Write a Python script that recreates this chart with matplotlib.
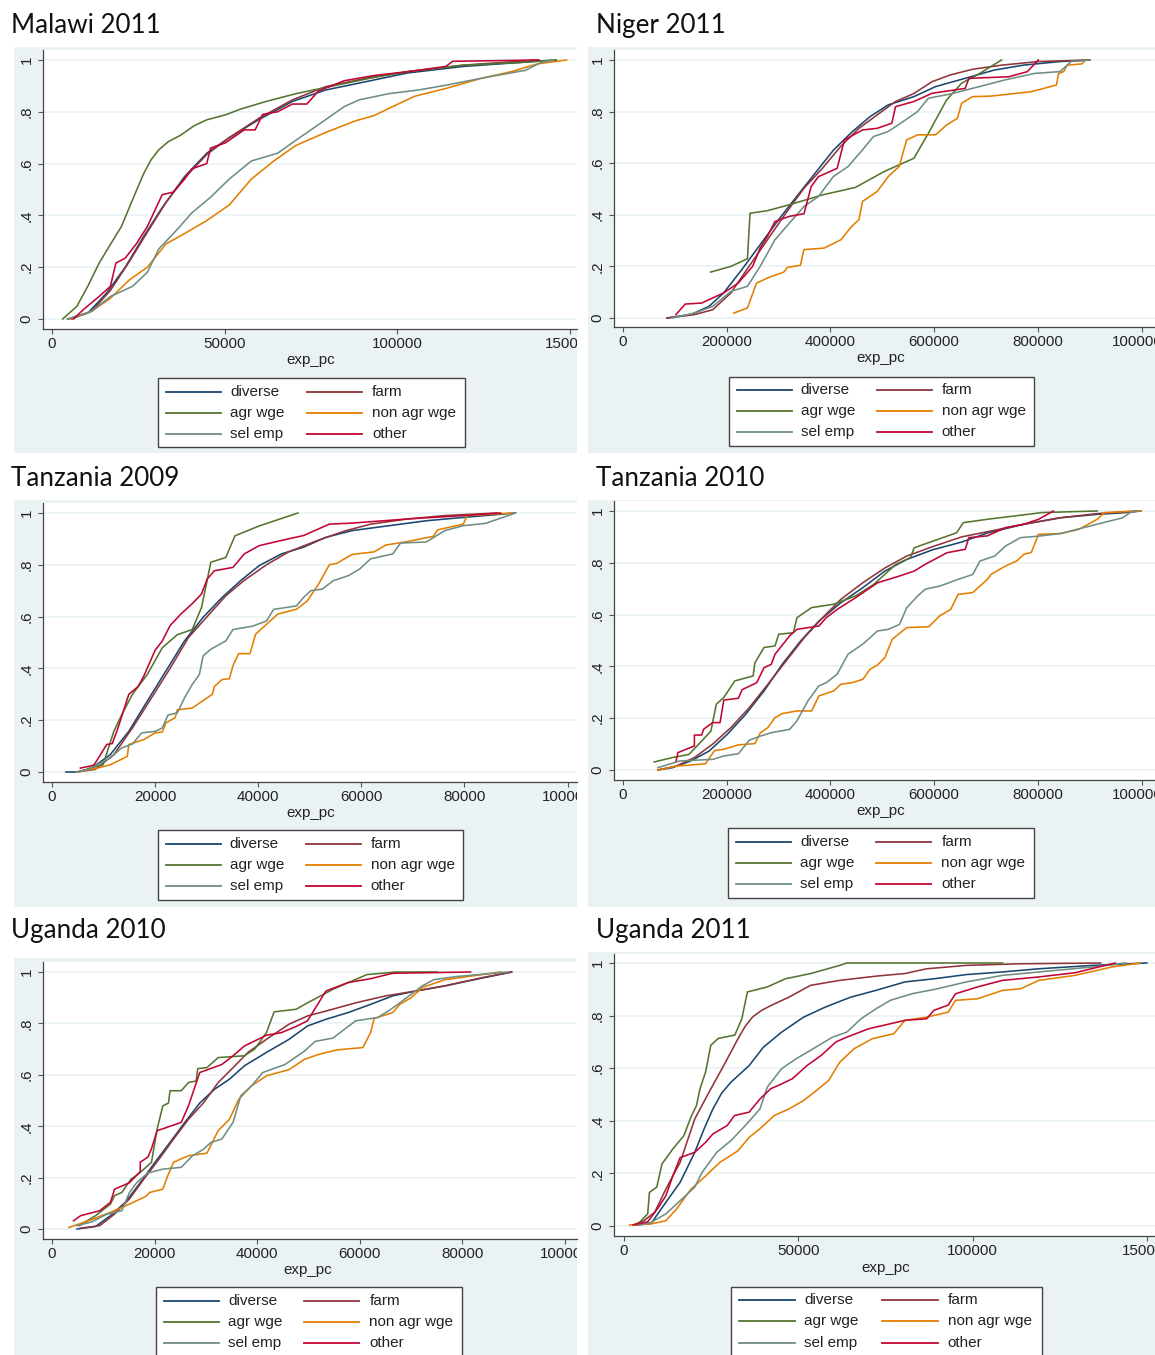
"""Cumulative distributions of exp_pc by livelihood group, six country-years."""
import matplotlib
matplotlib.use("Agg")
import matplotlib.pyplot as plt
from matplotlib.patches import Rectangle
from matplotlib.lines import Line2D
from matplotlib.transforms import Bbox, TransformedBbox

GROUPS = ["diverse", "farm", "agr wge", "non agr wge", "sel emp", "other"]
COLORS = {
    "diverse":     "#1A476F",
    "farm":        "#90353B",
    "agr wge":     "#55752F",
    "non agr wge": "#E37E00",
    "sel emp":     "#6E8E84",
    "other":       "#C10534",
}
Y_TICKS = [0, 0.2, 0.4, 0.6, 0.8, 1]
Y_TICK_LABELS = ["0", ".2", ".4", ".6", ".8", "1"]

# ---- data: (exp_pc, cumulative share) ----
MALAWI_2011 = {
    "diverse": ([4500, 10400, 15800, 21200, 26600, 31900, 38400, 44800, 51300, 59900, 69600, 79200, 92200, 103000, 119000, 135000, 146000],
                [0, 0.023, 0.10, 0.20, 0.32, 0.43, 0.55, 0.64, 0.70, 0.77, 0.84, 0.884, 0.92, 0.95, 0.975, 0.99, 1.0]),
    "farm": ([5600, 11500, 16900, 22300, 27600, 33000, 38400, 44800, 51300, 59900, 69600, 79200, 92200, 103000, 119000, 140500],
             [0, 0.03, 0.11, 0.22, 0.335, 0.45, 0.545, 0.635, 0.70, 0.775, 0.846, 0.897, 0.933, 0.955, 0.98, 1.0]),
    "agr wge": ([3100, 7200, 10500, 13650, 17000, 20100, 23300, 26600, 28700, 30900, 33700, 37300, 41000, 44800, 50200, 54500, 62000, 70600, 81400, 92200, 103000, 119000, 135000, 146000],
                [0, 0.049, 0.13, 0.216, 0.29, 0.357, 0.46, 0.563, 0.615, 0.653, 0.685, 0.71, 0.745, 0.769, 0.788, 0.81, 0.84, 0.87, 0.90, 0.93, 0.955, 0.98, 0.99, 1.0]),
    "non agr wge": ([5000, 11500, 16900, 22300, 27600, 33000, 38400, 44800, 51300, 57700, 64200, 70600, 79200, 87800, 93200, 98600, 105000, 114000, 124500, 133000, 140500, 149000],
                    [0, 0.03, 0.08, 0.15, 0.20, 0.29, 0.33, 0.38, 0.44, 0.54, 0.61, 0.67, 0.72, 0.765, 0.785, 0.82, 0.86, 0.89, 0.93, 0.955, 0.985, 1.0]),
    "sel emp": ([4500, 11500, 16900, 23300, 27600, 30900, 36200, 40500, 45900, 51300, 57700, 65300, 70600, 77100, 84600, 88900, 97500, 106000, 114600, 124500, 137000, 141500, 145000],
                [0, 0.03, 0.087, 0.126, 0.18, 0.27, 0.345, 0.41, 0.47, 0.54, 0.61, 0.64, 0.69, 0.75, 0.82, 0.846, 0.87, 0.884, 0.904, 0.93, 0.96, 0.99, 1.0]),
    "other": ([6200, 9400, 13650, 16900, 18500, 21200, 24400, 27600, 31900, 35100, 38400, 40500, 44800, 45900, 50200, 55600, 58800, 61000, 65300, 69600, 73800, 77100, 84600, 93200, 103000, 114000, 116000, 141000],
              [0, 0.04, 0.087, 0.126, 0.216, 0.235, 0.29, 0.357, 0.48, 0.49, 0.54, 0.58, 0.60, 0.66, 0.68, 0.73, 0.73, 0.79, 0.80, 0.83, 0.83, 0.88, 0.92, 0.94, 0.955, 0.975, 0.995, 1.0]),
}

NIGER_2011 = {
    "diverse": ([84700, 130500, 165800, 194000, 229000, 264500, 300000, 335000, 370000, 405600, 441000, 476000, 511500, 561000, 603000, 660000, 716000, 772000, 843000, 900000],
                [0, 0.013, 0.045, 0.097, 0.187, 0.284, 0.381, 0.471, 0.56, 0.65, 0.72, 0.78, 0.826, 0.858, 0.897, 0.929, 0.961, 0.98, 0.994, 1.0]),
    "farm": ([84700, 137500, 173000, 208000, 243000, 278500, 314000, 349000, 384500, 419800, 455000, 490000, 525600, 561000, 596000, 631000, 674000, 730000, 801000, 900000],
             [0, 0.013, 0.032, 0.097, 0.2, 0.303, 0.406, 0.503, 0.58, 0.665, 0.735, 0.787, 0.839, 0.87, 0.916, 0.942, 0.964, 0.98, 0.994, 1.0]),
    "agr wge": ([169000, 208000, 236000, 240000, 245000, 278500, 321000, 384500, 448000, 504000, 561000, 589000, 624000, 653000, 688000, 730000],
                [0.178, 0.2, 0.226, 0.23, 0.406, 0.416, 0.439, 0.477, 0.506, 0.568, 0.619, 0.716, 0.845, 0.91, 0.948, 1.0]),
    "non agr wge": ([213700, 240000, 257500, 278500, 310000, 317000, 342000, 349000, 388000, 420000, 441000, 455000, 462000, 490000, 511500, 532500, 547000, 568000, 603000, 624000, 645000, 653000, 674000, 709000, 787000, 836000, 840000, 850000, 857000, 885000, 892000],
                    [0.019, 0.039, 0.135, 0.155, 0.178, 0.196, 0.204, 0.265, 0.271, 0.303, 0.355, 0.381, 0.452, 0.49, 0.548, 0.587, 0.69, 0.71, 0.71, 0.748, 0.774, 0.832, 0.858, 0.86, 0.877, 0.903, 0.948, 0.955, 0.98, 0.985, 1.0]),
    "sel emp": ([95000, 137500, 173000, 208000, 240000, 264500, 293000, 321000, 349000, 377000, 405600, 434000, 462000, 483000, 511500, 540000, 568000, 589000, 631000, 674000, 737000, 794000, 843000, 864000, 900000],
                [0, 0.019, 0.045, 0.103, 0.123, 0.2, 0.303, 0.368, 0.432, 0.471, 0.548, 0.587, 0.652, 0.703, 0.723, 0.761, 0.80, 0.852, 0.868, 0.89, 0.923, 0.948, 0.955, 0.994, 1.0]),
    "other": ([102000, 120000, 151700, 194000, 222000, 250000, 264500, 278500, 293000, 321000, 349000, 363000, 377000, 413000, 427000, 462000, 490000, 518500, 525600, 561000, 596000, 660000, 667000, 744000, 780000, 801000],
              [0.013, 0.054, 0.058, 0.097, 0.135, 0.2, 0.271, 0.316, 0.374, 0.394, 0.404, 0.51, 0.548, 0.58, 0.69, 0.729, 0.735, 0.755, 0.819, 0.839, 0.871, 0.89, 0.929, 0.935, 0.955, 1.0]),
}

TANZANIA_2009 = {
    "diverse": ([2700, 4800, 7700, 11300, 14900, 18500, 22100, 25700, 29300, 33000, 36600, 40200, 44500, 48800, 53100, 58200, 65400, 72600, 79800, 89900],
                [0, 0, 0.015, 0.067, 0.157, 0.274, 0.39, 0.506, 0.597, 0.674, 0.739, 0.797, 0.842, 0.868, 0.906, 0.932, 0.951, 0.97, 0.983, 1.0]),
    "farm": ([4800, 8400, 12000, 15600, 19300, 22900, 26500, 30100, 33700, 37300, 41600, 45900, 51000, 56700, 61800, 69000, 76200, 86300],
             [0, 0.01, 0.067, 0.17, 0.286, 0.40, 0.52, 0.60, 0.68, 0.74, 0.80, 0.85, 0.89, 0.93, 0.957, 0.977, 0.99, 1.0]),
    "agr wge": ([7000, 9900, 12000, 13500, 15600, 18500, 21400, 24300, 27200, 29000, 30100, 30800, 33700, 35500, 40200, 47700],
                [0.013, 0.028, 0.157, 0.22, 0.30, 0.377, 0.48, 0.53, 0.55, 0.635, 0.74, 0.81, 0.828, 0.912, 0.95, 1.0]),
    "non agr wge": ([4800, 8400, 11300, 14600, 14900, 17800, 20000, 21400, 22100, 23900, 24300, 27200, 31100, 31500, 33000, 34400, 35100, 36200, 38400, 39500, 41600, 43800, 47400, 49500, 51700, 53800, 55300, 58200, 62500, 64700, 69000, 74000, 74800, 79800, 80500, 89300],
                    [0, 0.013, 0.028, 0.06, 0.106, 0.125, 0.151, 0.155, 0.19, 0.21, 0.24, 0.247, 0.30, 0.33, 0.357, 0.36, 0.41, 0.457, 0.457, 0.532, 0.57, 0.61, 0.628, 0.66, 0.725, 0.80, 0.806, 0.84, 0.85, 0.876, 0.89, 0.91, 0.935, 0.957, 0.99, 1.0]),
    "sel emp": ([4800, 7000, 11300, 13500, 15600, 17400, 20000, 21400, 22500, 24300, 25700, 27200, 28600, 29300, 30800, 33700, 35100, 38900, 41600, 43000, 47400, 48800, 50200, 52400, 54600, 57500, 59700, 61800, 66100, 67600, 72600, 76200, 79800, 84100, 88500, 89900],
                [0, 0.01, 0.054, 0.093, 0.108, 0.151, 0.157, 0.17, 0.22, 0.228, 0.286, 0.338, 0.377, 0.448, 0.474, 0.506, 0.55, 0.563, 0.583, 0.628, 0.641, 0.674, 0.70, 0.706, 0.739, 0.758, 0.784, 0.823, 0.842, 0.884, 0.888, 0.932, 0.951, 0.96, 0.99, 1.0]),
    "other": ([5500, 8100, 9200, 10600, 11700, 12800, 14900, 16700, 17800, 20000, 21400, 22900, 25000, 27200, 29000, 30100, 31500, 35100, 37300, 40200, 44500, 48800, 53800, 58200, 69000, 79800, 87000],
              [0.015, 0.026, 0.06, 0.106, 0.11, 0.17, 0.30, 0.33, 0.37, 0.47, 0.506, 0.565, 0.61, 0.65, 0.687, 0.745, 0.777, 0.79, 0.842, 0.874, 0.894, 0.913, 0.957, 0.961, 0.977, 0.99, 1.0]),
}

TANZANIA_2010 = {
    "diverse": ([67100, 95300, 130600, 166000, 201300, 236600, 272000, 307000, 342500, 377800, 420200, 462500, 505000, 547300, 596700, 653000, 702700, 773300, 844000, 914500, 971000, 999000],
                [0, 0.009, 0.035, 0.073, 0.138, 0.215, 0.305, 0.408, 0.498, 0.575, 0.646, 0.704, 0.768, 0.813, 0.85, 0.88, 0.915, 0.949, 0.974, 0.987, 0.994, 1.0]),
    "farm": ([67100, 102400, 137700, 173000, 208300, 243600, 279000, 314200, 349600, 384900, 420200, 462500, 505000, 547300, 596700, 653000, 702700, 773300, 844000, 914500, 992000],
             [0, 0.015, 0.048, 0.10, 0.164, 0.241, 0.33, 0.42, 0.511, 0.588, 0.659, 0.723, 0.78, 0.826, 0.862, 0.90, 0.92, 0.949, 0.974, 0.99, 1.0]),
    "agr wge": ([60000, 95300, 127100, 151800, 169500, 180000, 194400, 215600, 250900, 254400, 272000, 293200, 300200, 328500, 335500, 363700, 406100, 448500, 483800, 526200, 554400, 561500, 643500, 656300, 702700, 808600, 914500],
                [0.031, 0.048, 0.06, 0.112, 0.15, 0.254, 0.28, 0.344, 0.363, 0.414, 0.473, 0.479, 0.524, 0.53, 0.588, 0.627, 0.64, 0.672, 0.717, 0.794, 0.82, 0.858, 0.916, 0.955, 0.968, 0.994, 1.0]),
    "non agr wge": ([67100, 102400, 159000, 176500, 194400, 222600, 254400, 265000, 279000, 293200, 307300, 335500, 363700, 377800, 406100, 420200, 441500, 462500, 476500, 490800, 505000, 519200, 547300, 589600, 610800, 632000, 646300, 674500, 702700, 709800, 738000, 759300, 773300, 787400, 801500, 844000, 879000, 914500, 928700, 999000],
                    [0, 0.015, 0.024, 0.075, 0.08, 0.097, 0.102, 0.144, 0.163, 0.202, 0.218, 0.228, 0.228, 0.286, 0.305, 0.331, 0.337, 0.35, 0.389, 0.405, 0.434, 0.505, 0.55, 0.553, 0.595, 0.62, 0.678, 0.685, 0.736, 0.755, 0.788, 0.807, 0.833, 0.84, 0.91, 0.913, 0.929, 0.968, 0.994, 1.0]),
    "sel emp": ([67100, 109500, 173000, 194400, 222600, 243600, 265000, 286000, 321400, 335500, 356700, 377800, 392000, 413000, 434000, 462500, 476500, 490800, 511400, 533200, 547300, 568500, 582700, 610800, 646300, 674500, 688600, 716800, 738000, 766300, 801500, 844000, 914500, 964000, 978000, 992000],
                [0.009, 0.035, 0.041, 0.054, 0.063, 0.115, 0.131, 0.144, 0.157, 0.19, 0.267, 0.325, 0.337, 0.37, 0.447, 0.486, 0.511, 0.537, 0.543, 0.562, 0.627, 0.672, 0.698, 0.71, 0.736, 0.755, 0.807, 0.826, 0.865, 0.897, 0.903, 0.913, 0.949, 0.974, 0.994, 1.0]),
    "other": ([102400, 105900, 137700, 137700, 151800, 155300, 173000, 187200, 194400, 222600, 229600, 257800, 272000, 286000, 293200, 321400, 335500, 377800, 392000, 413000, 448500, 491000, 533200, 561500, 582700, 625000, 660000, 667000, 702700, 738000, 773300, 801500, 830000],
              [0.035, 0.067, 0.093, 0.135, 0.135, 0.157, 0.183, 0.183, 0.27, 0.277, 0.31, 0.337, 0.395, 0.408, 0.447, 0.518, 0.543, 0.556, 0.588, 0.62, 0.665, 0.723, 0.749, 0.768, 0.794, 0.839, 0.852, 0.897, 0.904, 0.936, 0.949, 0.968, 1.0]),
}

UGANDA_2010 = {
    "diverse": ([4900, 8500, 11400, 14300, 17200, 20100, 23000, 25900, 28800, 31700, 34600, 37500, 41800, 46200, 49800, 53400, 57700, 62100, 66400, 70900, 76600, 82300, 89600],
                [0, 0.01, 0.052, 0.104, 0.18, 0.26, 0.337, 0.415, 0.49, 0.544, 0.583, 0.635, 0.687, 0.738, 0.79, 0.816, 0.842, 0.874, 0.907, 0.926, 0.946, 0.97, 1.0]),
    "farm": ([5600, 9300, 12200, 15100, 17900, 20800, 23700, 26600, 29500, 32400, 35300, 38200, 41800, 46200, 49800, 53400, 59200, 65000, 70900, 76600, 83800, 89600],
             [0.003, 0.013, 0.058, 0.117, 0.194, 0.27, 0.35, 0.427, 0.49, 0.57, 0.628, 0.687, 0.738, 0.797, 0.829, 0.848, 0.88, 0.907, 0.926, 0.946, 0.978, 1.0]),
    "agr wge": ([5300, 8500, 11400, 12200, 13600, 15400, 17200, 19400, 20500, 21600, 22700, 23000, 25200, 26600, 28100, 28400, 30200, 32400, 37500, 39500, 41800, 43300, 47600, 49800, 54800, 61400, 67100, 75100],
                [0.013, 0.052, 0.097, 0.13, 0.142, 0.194, 0.22, 0.26, 0.39, 0.479, 0.49, 0.538, 0.538, 0.57, 0.576, 0.624, 0.628, 0.667, 0.674, 0.70, 0.764, 0.845, 0.855, 0.88, 0.933, 0.99, 1.0, 1.0]),
    "non agr wge": ([3300, 7100, 11400, 15100, 16900, 18300, 19000, 21600, 22700, 23700, 26600, 30200, 32400, 34600, 36400, 38900, 41800, 46200, 49200, 52100, 55600, 60600, 62100, 62800, 66400, 67800, 70000, 72200, 76600, 87500],
                    [0.006, 0.032, 0.065, 0.097, 0.114, 0.127, 0.142, 0.155, 0.214, 0.26, 0.285, 0.295, 0.383, 0.427, 0.505, 0.557, 0.596, 0.62, 0.66, 0.68, 0.697, 0.706, 0.764, 0.819, 0.842, 0.874, 0.90, 0.94, 0.97, 1.0]),
    "sel emp": ([4900, 7800, 10700, 13600, 15100, 16500, 18700, 21600, 25200, 27400, 29500, 31000, 33100, 35300, 36800, 38900, 41100, 45400, 49200, 51300, 54800, 57000, 59200, 63500, 65700, 67800, 72200, 74400, 78700, 88800],
                [0.013, 0.028, 0.058, 0.071, 0.142, 0.18, 0.218, 0.233, 0.24, 0.285, 0.31, 0.337, 0.35, 0.415, 0.518, 0.557, 0.609, 0.64, 0.692, 0.73, 0.743, 0.777, 0.81, 0.823, 0.85, 0.88, 0.946, 0.97, 0.982, 1.0]),
    "other": ([4200, 5600, 9300, 11400, 12200, 15100, 17200, 17200, 18700, 19400, 20500, 21600, 25200, 26600, 28800, 33100, 35300, 37500, 41800, 44700, 47600, 49800, 53400, 57700, 62100, 66400, 81600],
              [0.032, 0.052, 0.071, 0.104, 0.155, 0.18, 0.223, 0.26, 0.28, 0.313, 0.383, 0.39, 0.415, 0.479, 0.609, 0.64, 0.674, 0.712, 0.754, 0.764, 0.788, 0.81, 0.926, 0.959, 0.974, 0.995, 1.0]),
}

UGANDA_2011 = {
    "diverse": ([3600, 7800, 12000, 16100, 20300, 23000, 25500, 28000, 30700, 35900, 40000, 45200, 51500, 57700, 65000, 72300, 80600, 88900, 98200, 108600, 119000, 134600, 150000],
                [0.004, 0.01, 0.09, 0.166, 0.28, 0.37, 0.445, 0.505, 0.547, 0.61, 0.68, 0.737, 0.794, 0.832, 0.87, 0.896, 0.928, 0.94, 0.956, 0.966, 0.978, 0.991, 1.0]),
    "farm": ([2600, 5700, 8800, 12000, 16100, 20300, 24400, 28600, 32700, 34800, 36900, 39500, 42100, 47300, 53500, 61900, 72300, 80600, 86800, 98200, 113800, 136700],
             [0.004, 0.02, 0.052, 0.14, 0.242, 0.407, 0.509, 0.61, 0.712, 0.76, 0.795, 0.82, 0.838, 0.87, 0.915, 0.934, 0.95, 0.96, 0.978, 0.991, 0.997, 1.0]),
    "agr wge": ([3600, 5200, 6800, 7300, 9400, 10900, 14000, 17200, 19200, 20800, 21800, 23400, 24900, 27000, 31800, 33800, 35400, 41100, 46300, 53600, 61900, 63900, 108600],
                [0.004, 0.024, 0.046, 0.128, 0.148, 0.236, 0.293, 0.344, 0.414, 0.458, 0.522, 0.585, 0.687, 0.713, 0.726, 0.788, 0.89, 0.909, 0.94, 0.96, 0.991, 1.0, 1.0]),
    "non agr wge": ([1600, 7800, 12000, 15100, 19200, 23400, 27500, 32700, 35900, 39000, 43100, 47300, 51500, 54600, 58700, 61900, 66000, 71200, 77400, 80600, 86800, 93000, 95100, 101400, 108600, 113800, 119000, 129400, 140000, 148100],
                    [0.004, 0.008, 0.02, 0.065, 0.14, 0.19, 0.242, 0.286, 0.337, 0.37, 0.42, 0.445, 0.477, 0.509, 0.553, 0.623, 0.674, 0.712, 0.731, 0.782, 0.794, 0.813, 0.858, 0.864, 0.896, 0.902, 0.934, 0.953, 0.985, 1.0]),
    "sel emp": ([4600, 7800, 12000, 16100, 20300, 22400, 26600, 30700, 34800, 39000, 41100, 45200, 49400, 53500, 59800, 63900, 68000, 72300, 76400, 82600, 89900, 98200, 108600, 119000, 134600, 144000],
                [0.004, 0.014, 0.046, 0.096, 0.148, 0.204, 0.28, 0.325, 0.382, 0.445, 0.528, 0.598, 0.636, 0.668, 0.718, 0.737, 0.788, 0.826, 0.858, 0.883, 0.902, 0.928, 0.953, 0.966, 0.985, 1.0]),
    "other": ([2600, 6800, 9900, 12000, 14000, 16100, 20300, 23400, 25500, 29600, 31700, 35900, 39000, 42100, 45200, 48300, 52500, 56700, 60800, 63900, 70200, 76400, 80600, 86800, 88900, 93000, 95100, 101400, 108600, 119000, 129400, 140900],
              [0.004, 0.016, 0.071, 0.115, 0.19, 0.26, 0.28, 0.318, 0.35, 0.382, 0.42, 0.433, 0.483, 0.522, 0.54, 0.56, 0.61, 0.65, 0.70, 0.718, 0.75, 0.769, 0.782, 0.788, 0.82, 0.84, 0.883, 0.909, 0.934, 0.947, 0.963, 1.0]),
}

# ---- layout, all in pixels of the 1155x1355 canvas ----
W, H = 1155, 1355
BG = "#EAF2F3"
TICK_FONT = "Liberation Sans"
TICK_SIZE = 10.9

PANELS = [
    # title, data, title xy, gray box, axes box, x0 px, px per unit, y0 px, y1 px, xticks, xlabel xy, legend box, legend rows
    ("Malawi 2011", MALAWI_2011, (11, 33), (14, 47, 577, 453), (43, 50, 577, 329),
     52, 172.7 / 50000, 319, 60, [0, 50000, 100000, 150000], (311, 360),
     (158, 378, 465, 447), (392, 413, 434)),
    ("Niger 2011", NIGER_2011, (596, 33), (588, 47, 1155, 453), (614, 50, 1155, 327),
     623, 103.7 / 200000, 318, 60, [0, 200000, 400000, 600000, 800000, 1000000], (881, 358),
     (729, 377, 1034, 446), (390, 411, 432)),
    ("Tanzania 2009", TANZANIA_2009, (11, 486), (14, 500, 577, 907), (43, 503, 577, 782),
     52, 103.1 / 20000, 772, 513, [0, 20000, 40000, 60000, 80000, 100000], (311, 813),
     (158, 830, 463, 900), (844, 865, 886)),
    ("Tanzania 2010", TANZANIA_2010, (596, 486), (588, 500, 1155, 907), (614, 501, 1155, 780),
     623, 103.7 / 200000, 770, 511, [0, 200000, 400000, 600000, 800000, 1000000], (881, 811),
     (728, 828, 1034, 898), (842, 863, 884)),
    ("Uganda 2010", UGANDA_2010, (11, 938), (14, 958, 577, 1355), (43, 962, 577, 1239),
     52, 102.6 / 20000, 1229, 972, [0, 20000, 40000, 60000, 80000, 100000], (308, 1270),
     (156, 1287, 462, 1370), (1301, 1322, 1343)),
    ("Uganda 2011", UGANDA_2011, (596, 938), (588, 952, 1155, 1355), (614, 954, 1155, 1236),
     624, 174.3 / 50000, 1226, 963, [0, 50000, 100000, 150000], (886, 1268),
     (731, 1287, 1042, 1370), (1300, 1321, 1343)),
]

fig = plt.figure(figsize=(W / 100, H / 100), dpi=100)
fig.patch.set_facecolor("white")


def fx(px):
    return px / W


def fy(py):
    return 1 - py / H


for (title, data, txy, gbox, abox, x0, kx, y0, y1, xticks, lxy, lbox, lrows) in PANELS:
    gx0, gy0, gx1, gy1 = gbox
    fig.patches.append(Rectangle((fx(gx0), fy(gy1)), (gx1 - gx0) / W, (gy1 - gy0) / H,
                                 transform=fig.transFigure, facecolor=BG, edgecolor="none", zorder=-5))
    fig.text(fx(txy[0]), fy(txy[1]), title, family="Lato", fontsize=18.7, va="baseline",
             ha="left", color="#111111")

    l, t, r, b = abox
    ax = fig.add_axes([fx(l), fy(b), (r - l) / W, (b - t) / H])
    ax.set_facecolor("white")
    ky = (y0 - y1)
    ax.set_xlim((l - x0) / kx, (r - x0) / kx)
    ax.set_ylim((y0 - b) / ky, (y0 - t) / ky)

    for g in GROUPS:
        xs, ys = data[g]
        ax.plot(xs, ys, color=COLORS[g], lw=1.15, solid_joinstyle="round")

    ax.set_yticks(Y_TICKS)
    ax.set_yticklabels(Y_TICK_LABELS, rotation=90, va="center", family=TICK_FONT, fontsize=TICK_SIZE)
    ax.set_xticks(xticks)
    ax.set_xticklabels([str(v) for v in xticks], family=TICK_FONT, fontsize=TICK_SIZE)
    ax.tick_params(direction="out", length=3.6, width=0.8, color="#555555", labelcolor="#222222")
    ax.tick_params(axis="y", pad=3)
    ax.tick_params(axis="x", pad=2)
    ax.grid(axis="y", color=BG, lw=1.2)
    ax.set_axisbelow(True)
    for side in ("top", "right"):
        ax.spines[side].set_visible(False)
    for side in ("left", "bottom"):
        ax.spines[side].set_color("#444444")
        ax.spines[side].set_linewidth(0.9)

    # the source screenshot cuts the last x label at the panel edge
    clip = TransformedBbox(Bbox.from_extents(fx(gx0), fy(gy1), fx(gx1), fy(gy0)), fig.transFigure)
    for lab in ax.get_xticklabels():
        lab.set_clip_box(clip)
        lab.set_clip_on(True)

    fig.text(fx(lxy[0]), fy(lxy[1]), "exp_pc", family=TICK_FONT, fontsize=TICK_SIZE,
             ha="center", va="center", color="#222222")

    # legend, drawn by hand to sit exactly where Stata put it
    bx0, by0, bx1, by1 = lbox
    bw = bx1 - bx0
    fig.patches.append(Rectangle((fx(bx0), fy(by1)), bw / W, (by1 - by0) / H,
                                 transform=fig.transFigure, facecolor="white",
                                 edgecolor="#444444", lw=1.0, zorder=2))
    for row, yrow in enumerate(lrows):
        for col in range(2):
            g = GROUPS[row * 2 + col]
            a = bx0 + bw * (0.026 + 0.459 * col)
            e = bx0 + bw * (0.205 + 0.459 * col)
            tx = bx0 + bw * (0.235 + 0.462 * col)
            fig.add_artist(Line2D([fx(a), fx(e)], [fy(yrow), fy(yrow)], transform=fig.transFigure,
                                  color=COLORS[g], lw=1.3, zorder=3))
            fig.text(fx(tx), fy(yrow), g, family=TICK_FONT, fontsize=11.0, ha="left",
                     va="center", color="#222222", zorder=3)

fig.savefig("out.png", dpi=100, facecolor="white")
print("Saved: out.png")
